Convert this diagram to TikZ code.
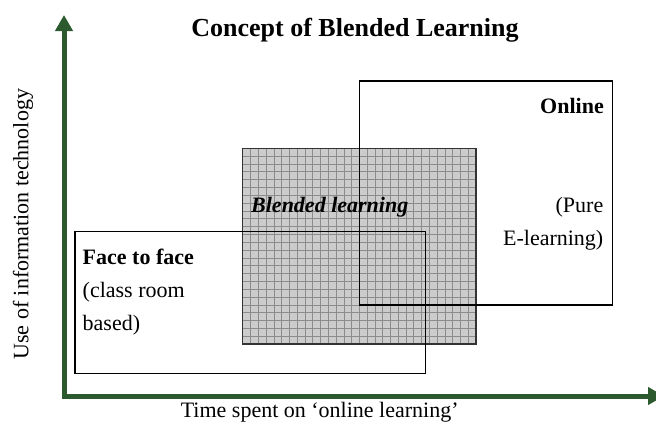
\documentclass[tikz,border=0pt]{standalone}
\usepackage{fontspec}
\setmainfont{Liberation Serif}
\usetikzlibrary{arrows.meta}

\definecolor{axisgreen}{RGB}{44,90,46}
\definecolor{blendfill}{RGB}{204,204,204}
\definecolor{blendgrid}{RGB}{140,140,140}

\tikzset{
  axisline/.style={draw=axisgreen, line width=5pt, line join=miter,
    {Triangle[width=17pt,length=16pt]}-{Triangle[width=17pt,length=16pt]}},
  areabox/.style={draw=black, line width=1.4pt},
  blendbox/.style={draw=black!80, line width=1.4pt, fill=blendfill},
  gridline/.style={draw=blendgrid, line width=0.6pt},
  bodytext/.style={inner sep=0pt, font=\fontsize{22}{26}\selectfont},
  titletext/.style={inner sep=0pt, font=\fontsize{26}{30}\selectfont\bfseries},
}

\begin{document}
\begin{tikzpicture}[x=1pt, y=-1pt]
  \useasboundingbox (0,0) rectangle (656,423);

  % corners of the three areas
  \coordinate (blendNW) at (242.7,148.3);
  \coordinate (blendSE) at (476,344);
  \coordinate (faceNW) at (75,231.7);
  \coordinate (faceSE) at (425.7,373.3);
  \coordinate (onlineNW) at (359.3,81);
  \coordinate (onlineSE) at (612.3,305);

  % blended area: grey fill with a fine grid
  \path[fill=blendfill] (blendNW) rectangle (blendSE);
  \foreach \i in {1,...,29} {
    \draw[gridline] (242.7+\i*7.777,148.3) -- (242.7+\i*7.777,344);
  }
  \foreach \j in {1,...,24} {
    \draw[gridline] (242.7,148.3+\j*7.828) -- (476,148.3+\j*7.828);
  }
  \draw[blendbox, fill=none] (blendNW) rectangle (blendSE);

  % face-to-face and online areas, outlines only
  \draw[areabox] (faceNW) rectangle (faceSE);
  \draw[areabox] (onlineNW) rectangle (onlineSE);

  % axes
  \coordinate (origin) at (64,396);
  \coordinate (ytip) at (64,15);
  \coordinate (xtip) at (664,396);
  \draw[axisline] (ytip) -- (origin) -- (xtip);

  % title
  \node[titletext, anchor=base] (title) at (355,36) {Concept of Blended Learning};

  % axis labels
  \node[bodytext, anchor=base, rotate=90] (ylabel) at (28.3,224.3) {Use of information technology};
  \node[bodytext, anchor=base] (xlabel) at (319.7,417.5) {Time spent on ‘online learning’};

  % area labels
  \node[bodytext, anchor=base west, font=\fontsize{22}{26}\selectfont\bfseries] (ff1) at (82.5,264.3) {Face to face};
  \node[bodytext, anchor=base west] (ff2) at (82.5,297.3) {(class room};
  \node[bodytext, anchor=base west] (ff3) at (82.5,330.3) {based)};

  \node[bodytext, anchor=base west, font=\fontsize{22}{26}\selectfont\bfseries\itshape] (bl) at (251,212.7) {Blended learning};

  \node[bodytext, anchor=base east, font=\fontsize{22}{26}\selectfont\bfseries] (on1) at (604,113.3) {Online};
  \node[bodytext, anchor=base east] (on2) at (603.5,212) {(Pure};
  \node[bodytext, anchor=base east] (on3) at (603.5,245) {E-learning)};
\end{tikzpicture}
\end{document}
